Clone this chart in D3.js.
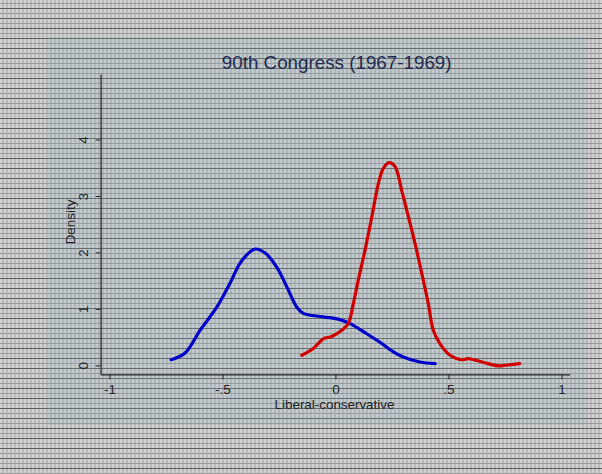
<!DOCTYPE html>
<html><head><meta charset="utf-8">
<script src="https://cdn.jsdelivr.net/npm/d3@7"></script>
<style>body{margin:0;padding:0;overflow:hidden}svg{display:block}</style>
</head><body>
<svg id="chart" width="602" height="474"></svg>
<script>
const title = "90th Congress (1967-1969)";
const xTicks = [-1, -0.5, 0, 0.5, 1];
const xTickLabels = ["-1", "-.5", "0", ".5", "1"];
const yTicks = [0, 1, 2, 3, 4];
const yTickLabels = ["0", "1", "2", "3", "4"];
const demX = [-0.727,-0.665,-0.599,-0.525,-0.467,-0.422,-0.378,-0.356,-0.311,-0.260,-0.215,-0.171,-0.142,-0.054,0.020,0.065,0.138,0.197,0.256,0.300,0.374,0.441];
const demY = [0.10,0.22,0.62,1.03,1.45,1.81,2.01,2.06,1.99,1.74,1.39,1.03,0.92,0.86,0.81,0.74,0.56,0.41,0.24,0.15,0.06,0.03];
const repX = [-0.149,-0.098,-0.054,-0.016,0.028,0.057,0.079,0.101,0.131,0.161,0.190,0.212,0.238,0.264,0.293,0.323,0.352,0.382,0.411,0.433,0.463,0.507,0.559,0.588,0.656,0.724,0.747,0.815];
const repY = [0.18,0.30,0.47,0.51,0.62,0.74,1.09,1.51,2.04,2.63,3.22,3.49,3.59,3.52,3.10,2.63,2.16,1.63,1.09,0.62,0.38,0.18,0.10,0.12,0.05,-0.01,0.00,0.03];

const svg = d3.select("#chart");
const W = 602, H = 474;
const defs = svg.append("defs");
const pat = defs.append("pattern").attr("id","bg").attr("patternUnits","userSpaceOnUse")
  .attr("width",4).attr("height",10);
pat.append("rect").attr("width",4).attr("height",10).attr("fill","#d2d2d2");
pat.append("rect").attr("x",2).attr("width",2).attr("height",10).attr("fill","#bababa");
pat.append("rect").attr("y",3).attr("width",4).attr("height",1).attr("fill","#999999");
pat.append("rect").attr("y",8).attr("width",4).attr("height",1).attr("fill","#5e5e5e");
svg.append("rect").attr("width",W).attr("height",H).attr("fill","url(#bg)");
svg.append("rect").attr("x",47).attr("y",37).attr("width",539).attr("height",388)
  .attr("fill","rgb(140,175,190)").attr("opacity",0.2);

const x = d3.scaleLinear().domain([-1.039, 1.036]).range([100.6, 569.6]);
const y = d3.scaleLinear().domain([-0.16, 5.16]).range([374.4, 74]);

const font = "'Liberation Sans', Arial, sans-serif";

// x axis
const xAxis = d3.axisBottom(x).tickValues(xTicks).tickFormat((d,i)=>xTickLabels[i]).tickSize(5).tickSizeOuter(0);
const gx = svg.append("g").attr("transform","translate(0,374.4)").call(xAxis);
gx.select(".domain").attr("stroke","#222").attr("stroke-width",1.2);
gx.selectAll(".tick line").attr("stroke","#222");
gx.selectAll(".tick text").attr("font-family",font).attr("font-size",13.4).attr("fill","#222").attr("dy","0.85em");

// y axis
const yAxis = d3.axisLeft(y).tickValues(yTicks).tickFormat((d,i)=>yTickLabels[i]).tickSize(5).tickSizeOuter(0);
const gy = svg.append("g").attr("transform","translate(100.6,0)").call(yAxis);
gy.select(".domain").attr("stroke","#222").attr("stroke-width",1.2);
gy.selectAll(".tick line").attr("stroke","#222");
gy.selectAll(".tick text").attr("font-family",font).attr("font-size",13.4).attr("fill","#222")
  .attr("x",0).attr("text-anchor","middle")
  .attr("transform","translate(-17,0) rotate(-90)").attr("dy","0.35em");

// axis titles
svg.append("text").attr("x",334.5).attr("y",409).attr("text-anchor","middle")
  .attr("font-family",font).attr("font-size",13.4).attr("fill","#222").text("Liberal-conservative");
svg.append("text").attr("transform","translate(74.5,222) rotate(-90)").attr("text-anchor","middle")
  .attr("font-family",font).attr("font-size",13.4).attr("fill","#222").text("Density");

// title
svg.append("text").attr("x",336.7).attr("y",68.5).attr("text-anchor","middle")
  .attr("font-family",font).attr("font-size",18.8).attr("fill","#1e2b4e").text(title);

const line = d3.line().x(d=>x(d[0])).y(d=>y(d[1])).curve(d3.curveCatmullRom.alpha(0.5));
svg.append("path").datum(demX.map((v,i)=>[v,demY[i]])).attr("d",line)
  .attr("fill","none").attr("stroke","#0000c8").attr("stroke-width",3.2).attr("stroke-linejoin","round").attr("stroke-linecap","round");
svg.append("path").datum(repX.map((v,i)=>[v,repY[i]])).attr("d",line)
  .attr("fill","none").attr("stroke","#d00000").attr("stroke-width",3.2).attr("stroke-linejoin","round").attr("stroke-linecap","round");
</script>
</body></html>
